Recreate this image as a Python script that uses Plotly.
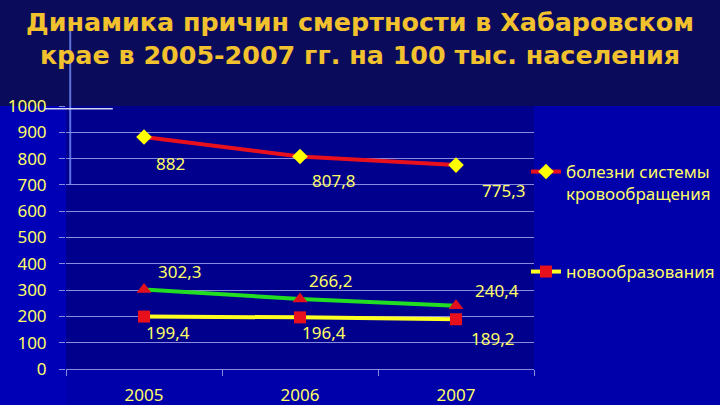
import plotly.graph_objects as go

years = ["2005", "2006", "2007"]
circ = [882, 807.8, 775.3]        # болезни системы кровообращения
injury = [302.3, 266.2, 240.4]    # третий ряд (без подписи в легенде)
neo = [199.4, 196.4, 189.2]       # новообразования
y_ticks = [0, 100, 200, 300, 400, 500, 600, 700, 800, 900, 1000]

title_text = "<b>Динамика причин смертности в Хабаровском<br>крае в 2005-2007 гг. на 100 тыс. населения</b>"

# label offsets (px) for data labels: style only
off_circ = [(26, -26), (33, -24), (47, -25)]
off_inj = [(35, 18), (30, 18), (41, 15)]
off_neo = [(24, -16), (24, -15), (36, -19)]

FONT = "Noto Sans"
YEL = "#ffff66"
GRID = "#8a8ae0"


def fmt(v):
    return ("%g" % v).replace(".", ",")


fig = go.Figure()
fig.add_trace(go.Scatter(
    x=years, y=circ, mode="lines+markers", name="болезни системы<br>кровообращения",
    line=dict(color="#e8101c", width=4),
    marker=dict(symbol="diamond", size=12, color="#ffff00"),
    legend="legend"))
fig.add_trace(go.Scatter(
    x=years, y=injury, mode="lines+markers", name="",
    line=dict(color="#22dd22", width=4),
    marker=dict(symbol="triangle-up", size=13, color="#e0101c"),
    showlegend=False))
fig.add_trace(go.Scatter(
    x=years, y=neo, mode="lines+markers", name="новообразования",
    line=dict(color="#ffff22", width=4),
    marker=dict(symbol="square", size=12, color="#e8101c"),
    legend="legend2"))

for vals, offs in ((circ, off_circ), (injury, off_inj), (neo, off_neo)):
    for i, (yv, (dx, dy)) in enumerate(zip(vals, offs)):
        fig.add_annotation(x=i, y=yv, xref="x", yref="y", text=fmt(yv), showarrow=False,
                           xshift=dx, yshift=dy,
                           font=dict(family=FONT, size=17, color=YEL))

# dark top band
fig.add_shape(type="rect", xref="paper", yref="paper", x0=-0.2, x1=1.5, y0=1.0, y1=1.5,
              fillcolor="#0b0b5c", line=dict(width=0), layer="below")
# lighter left strip
fig.add_shape(type="rect", xref="paper", yref="paper", x0=-0.2, x1=0.0, y0=-0.2, y1=1.0,
              fillcolor="#0000b6", line=dict(width=0), layer="below")
# lens flare lines
fig.add_shape(type="line", xref="paper", yref="paper", x0=0.009, x1=0.009, y0=0.7, y1=1.3,
              line=dict(color="rgba(120,150,255,0.75)", width=2))
fig.add_shape(type="line", xref="paper", yref="paper", x0=-0.045, x1=0.1, y0=0.99, y1=0.99,
              line=dict(color="rgba(230,235,255,0.9)", width=1.5))

fig.update_layout(
    width=720, height=405,
    margin=dict(l=66, r=186, t=106, b=36, autoexpand=False),
    paper_bgcolor="#0000aa",
    plot_bgcolor="#00008c",
    title=dict(text=title_text, x=0.5, xanchor="center", xref="container",
               y=1 - 31 / 405, yref="container", yanchor="middle",
               font=dict(family="DejaVu Sans", size=25.4, color="#f2c12e")),
    xaxis=dict(type="category", range=[-0.5, 2.5], showgrid=False, automargin=False,
               showline=True, linecolor=GRID, linewidth=1,
               ticks="outside", tickson="boundaries", ticklen=6, tickcolor=GRID,
               tickfont=dict(family=FONT, size=17, color=YEL), ticklabelstandoff=11),
    yaxis=dict(range=[0, 1000], tickvals=y_ticks, showgrid=True, gridcolor=GRID, gridwidth=1.3,
               zeroline=False, ticks="outside", ticklen=6, tickcolor=GRID, automargin=False,
               tickfont=dict(family=FONT, size=17, color=YEL), ticklabelstandoff=9),
    legend=dict(xref="container", yref="container", x=526 / 720, y=1 - 154 / 405,
                xanchor="left", yanchor="top", bgcolor="rgba(0,0,0,0)", valign="top",
                itemwidth=30, font=dict(family=FONT, size=17, color=YEL)),
    legend2=dict(xref="container", yref="container", x=526 / 720, y=1 - 254 / 405,
                 xanchor="left", yanchor="top", bgcolor="rgba(0,0,0,0)",
                 itemwidth=30, font=dict(family=FONT, size=17, color=YEL)),
)

fig.write_html("out.html", config={"displayModeBar": False},
               post_script="document.body.style.margin='0';")
